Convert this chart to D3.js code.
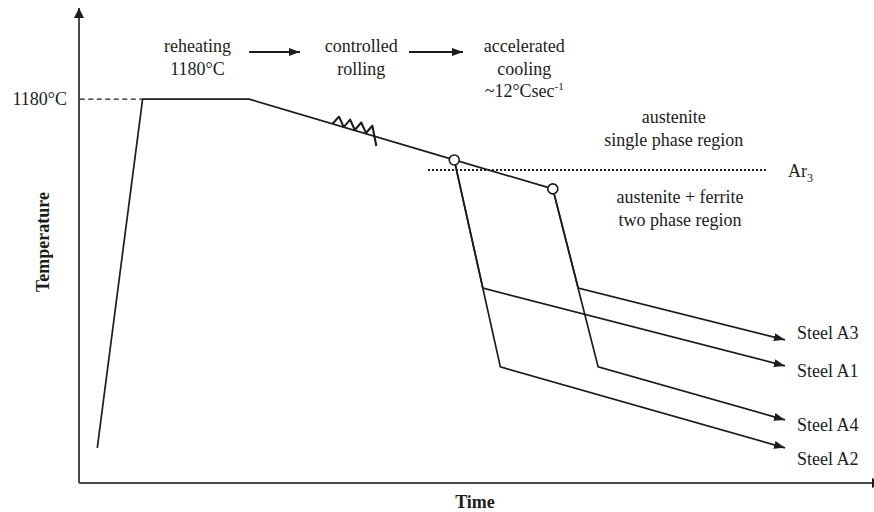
<!DOCTYPE html>
<html>
<head>
<meta charset="utf-8">
<script src="https://cdn.jsdelivr.net/npm/d3@7"></script>
<style>
  body { margin: 0; background: #fff; }
  svg text { font-family: "Liberation Serif", "Times New Roman", serif; fill: #1c1c1c; }
</style>
</head>
<body>
<svg id="chart" width="874" height="512" font-family="Liberation Serif, Times New Roman, serif"></svg>
<script>
// ---------- data (time in arbitrary units, temperature in °C) ----------
const processTime = [2.3, 8.0, 21.4, 47.2, 59.6];       // heating, soaking, rolling
const processTemp = [108, 1180, 1180, 993, 904];
const rollingTime = [31.9, 32.7, 33.3, 34.1, 34.7, 35.5, 36.1, 36.9, 37.4]; // rolling passes
const rollingTemp = [1104, 1126, 1094, 1117, 1085, 1108, 1076, 1098, 1036];
const coolStartTime = [47.2, 59.6];                     // start of accelerated cooling
const coolStartTemp = [993, 904];
const steelNames = ["Steel A1", "Steel A2", "Steel A3", "Steel A4"];
const steelStartTime = [47.2, 47.2, 59.6, 59.6];
const steelStartTemp = [993, 993, 904, 904];
const steelKneeTime = [50.8, 53.0, 62.8, 65.3];         // end of accelerated cooling
const steelKneeTemp = [599, 357, 599, 357];
const steelEndTime = [88.8, 88.8, 88.8, 88.8];
const steelEndTemp = [360, 108, 440, 194];
const steelLabelTemp = [326, 55, 443, 160];
const ar3Temp = 962;
const ar3Span = [43.9, 86.4];
const reheatTemp = 1180;
const stageLines = [["reheating", "1180°C"], ["controlled", "rolling"], ["accelerated", "cooling", "~12°Csec"]];
const stageTime = [14.9, 35.5, 56.0];
const stageArrowTime = [[21.4, 27.8], [41.5, 48.3]];
const phaseLines = [["austenite", "single phase region"], ["austenite + ferrite", "two phase region"]];
const phaseTime = [74.8, 75.6];

// ---------- layout ----------
const svg = d3.select("#chart");
const ink = "#1c1c1c";
const serif = "Liberation Serif, Times New Roman, serif";
const x = d3.scaleLinear().domain([0, 100]).range([79, 874]);
const y = d3.scaleLinear().domain([0, 1460]).range([483, 8]);
const line = d3.line().x(d => x(d[0])).y(d => y(d[1]));

function label(sel, size) {
  return sel.attr("font-family", serif).attr("font-size", size).attr("fill", ink);
}

const defs = svg.append("defs");
function marker(id, w, h, fill) {
  defs.append("marker")
    .attr("id", id).attr("viewBox", `0 0 ${w} ${h}`)
    .attr("refX", w).attr("refY", h / 2)
    .attr("markerUnits", "userSpaceOnUse")
    .attr("markerWidth", w).attr("markerHeight", h)
    .attr("orient", "auto")
    .append("path").attr("d", `M0,0L${w},${h / 2}L0,${h}Z`).attr("fill", fill);
}
marker("arrow", 11, 8, ink);
marker("axisArrow", 10, 10, ink);

// axes
const yAxis = svg.append("g").attr("transform", `translate(${x(0)},0)`)
  .call(d3.axisLeft(y).tickValues([reheatTemp]).tickSize(0).tickPadding(12)
    .tickFormat(d => d + "°C"));
yAxis.select(".domain").remove();
label(yAxis.selectAll("text"), 18);
yAxis.attr("font-family", serif).attr("font-size", 18);

const xAxis = svg.append("g").attr("transform", `translate(0,${y(0)})`)
  .call(d3.axisBottom(x).tickValues([]).tickSizeOuter(0));
xAxis.select(".domain").remove();

svg.append("path")
  .attr("d", line([[0, 0], [0, 1460]]))
  .attr("stroke", "#4a4a4a").attr("stroke-width", 2).attr("fill", "none")
  .attr("marker-end", "url(#axisArrow)");
svg.append("path")
  .attr("d", line([[0, 0], [101, 0]]))
  .attr("stroke", "#4a4a4a").attr("stroke-width", 2).attr("fill", "none")
  .attr("marker-end", "url(#axisArrow)");

// axis titles
label(svg.append("text"), 18).attr("x", 475).attr("y", 508)
  .attr("text-anchor", "middle").attr("font-weight", "bold").text("Time");
label(svg.append("text"), 18).attr("transform", "translate(49,242) rotate(-90)")
  .attr("text-anchor", "middle").attr("font-weight", "bold").text("Temperature");

// reheating temperature guide
svg.append("path")
  .attr("d", line([[0.1, reheatTemp], [processTime[1], reheatTemp]]))
  .attr("stroke", ink).attr("stroke-width", 1.4).attr("stroke-dasharray", "5,3.5").attr("fill", "none");

// Ar3 line
svg.append("path")
  .attr("d", line([[ar3Span[0], ar3Temp], [ar3Span[1], ar3Temp]]))
  .attr("stroke", ink).attr("stroke-width", 2).attr("stroke-dasharray", "2,2").attr("fill", "none");
const ar3 = label(svg.append("text"), 18).attr("x", 788).attr("y", y(ar3Temp) + 7).text("Ar");
ar3.append("tspan").attr("font-size", 12).attr("dy", 5).text("3");

// main heating / rolling path
svg.append("path")
  .attr("d", line(processTime.map((t, i) => [t, processTemp[i]])))
  .attr("stroke", ink).attr("stroke-width", 1.7).attr("fill", "none").attr("stroke-linejoin", "round");

// rolling passes
svg.append("path")
  .attr("d", line(rollingTime.map((t, i) => [t, rollingTemp[i]])))
  .attr("stroke", ink).attr("stroke-width", 2.1).attr("fill", "none").attr("stroke-linejoin", "round");

// cooling paths for each steel
steelNames.forEach((name, i) => {
  svg.append("path")
    .attr("d", line([[steelStartTime[i], steelStartTemp[i]], [steelKneeTime[i], steelKneeTemp[i]], [steelEndTime[i], steelEndTemp[i]]]))
    .attr("stroke", ink).attr("stroke-width", 1.7).attr("fill", "none")
    .attr("marker-end", "url(#arrow)");
  label(svg.append("text"), 18)
    .attr("x", x(steelEndTime[i]) + 12).attr("y", y(steelLabelTemp[i]))
    .text(name);
});

// start-of-cooling markers
svg.selectAll("circle.start").data(coolStartTime).enter().append("circle")
  .attr("class", "start")
  .attr("cx", d => x(d)).attr("cy", (d, i) => y(coolStartTemp[i])).attr("r", 5)
  .attr("fill", "#fff").attr("stroke", ink).attr("stroke-width", 1.6);

// process stage labels
const headerBase = 52, lineGap = 22.5;
stageLines.forEach((lines, i) => {
  lines.forEach((s, j) => {
    const t = label(svg.append("text"), 18).attr("x", x(stageTime[i])).attr("y", headerBase + j * lineGap)
      .attr("text-anchor", "middle").text(s);
    if (s === "~12°Csec") t.append("tspan").attr("font-size", 11).attr("dy", -7).text("-1");
  });
});
stageArrowTime.forEach(a => {
  svg.append("path")
    .attr("d", `M${x(a[0])},${headerBase}H${x(a[1])}`)
    .attr("stroke", ink).attr("stroke-width", 1.8).attr("marker-end", "url(#arrow)");
});

// phase region labels
const phaseBase = [123, 203];
phaseLines.forEach((lines, i) => {
  lines.forEach((s, j) => {
    label(svg.append("text"), 18).attr("x", x(phaseTime[i])).attr("y", phaseBase[i] + j * lineGap)
      .attr("text-anchor", "middle").text(s);
  });
});
</script>
</body>
</html>
